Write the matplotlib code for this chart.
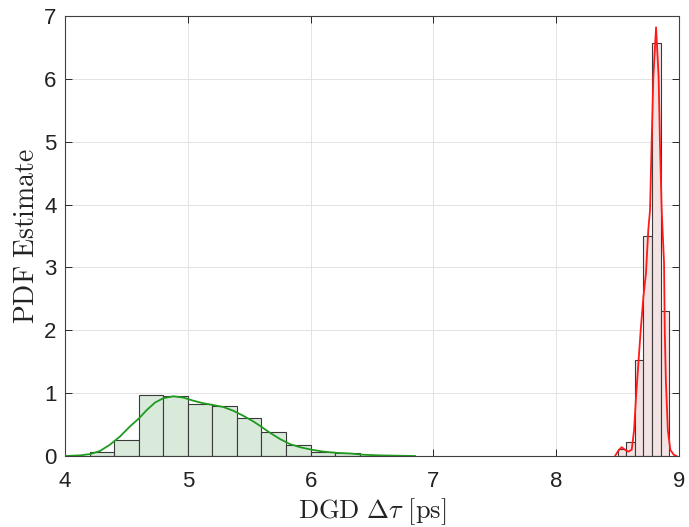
import numpy as np
import matplotlib.pyplot as plt

# green histogram (bin width 0.2)
g_edges = [4.2, 4.4, 4.6, 4.8, 5.0, 5.2, 5.4, 5.6, 5.8, 6.0, 6.2]
g_heights = [0.07, 0.25, 0.97, 0.96, 0.82, 0.80, 0.60, 0.38, 0.17, 0.07, 0.04]
g_width = 0.2

# green density curve
g_x = [4.0, 4.122, 4.204, 4.285, 4.366, 4.448, 4.529, 4.603, 4.665, 4.733,
       4.801, 4.882, 4.963, 5.045, 5.126, 5.208, 5.289, 5.371, 5.452, 5.534,
       5.588, 5.669, 5.751, 5.832, 5.914, 6.009, 6.104, 6.212, 6.321, 6.43,
       6.565, 6.70, 6.85]
g_y = [0.0, 0.01, 0.03, 0.08, 0.18, 0.31, 0.47, 0.60, 0.73, 0.85,
       0.92, 0.95, 0.93, 0.88, 0.84, 0.81, 0.78, 0.72, 0.64, 0.55,
       0.48, 0.37, 0.27, 0.19, 0.14, 0.10, 0.07, 0.05, 0.04, 0.02,
       0.01, 0.005, 0.0]

# red histogram (bin width 0.07)
r_edges = [8.50, 8.57, 8.64, 8.71, 8.78, 8.85]
r_heights = [0.11, 0.22, 1.53, 3.50, 6.57, 2.31]
r_width = 0.07

# red density curve
r_x = [8.479, 8.506, 8.533, 8.56, 8.587, 8.615, 8.634, 8.65, 8.669, 8.688,
       8.71, 8.731, 8.75, 8.764, 8.777, 8.791, 8.813, 8.834, 8.845, 8.859,
       8.878, 8.884, 8.893, 8.909, 8.929, 8.957, 8.98]
r_y = [0.0, 0.085, 0.14, 0.10, 0.07, 0.10, 0.41, 0.94, 1.47, 2.0,
       2.53, 2.91, 3.6, 3.91, 4.97, 6.03, 6.82, 6.03, 4.97, 3.91,
       3.07, 2.0, 1.2, 0.41, 0.10, 0.02, 0.0]

plt.rcParams['font.family'] = ['Liberation Sans', 'DejaVu Sans']
plt.rcParams['mathtext.fontset'] = 'cm'

fig = plt.figure(figsize=(6.89, 5.27), dpi=100)
ax = fig.add_axes([0.0943, 0.1347, 0.8912, 0.8349])

ax.bar(g_edges, g_heights, width=g_width, align='edge',
       facecolor='#d9eadb', edgecolor='#3a3a3a', linewidth=0.8, zorder=2)
ax.plot(g_x, g_y, color='#1f9a1f', linewidth=1.3, zorder=3)

ax.bar(r_edges, r_heights, width=r_width, align='edge',
       facecolor='#f3e3e3', edgecolor='#3a3a3a', linewidth=0.8, zorder=2)
ax.plot(r_x, r_y, color='#ff1a1a', linewidth=1.3, zorder=3)

ax.set_xlim(4, 9)
ax.set_ylim(0, 7)
ax.set_xticks(range(4, 10))
ax.set_yticks(range(0, 8))
ax.grid(True, color='#e3e3e3', linewidth=0.7, zorder=0)
ax.set_axisbelow(True)
ax.tick_params(direction='in', top=True, right=True, length=5, width=0.7,
               labelsize=16, colors='#262626', labelcolor='#222222')
ax.tick_params(axis='x', pad=11)
ax.tick_params(axis='y', pad=6)
for s in ax.spines.values():
    s.set_color('#404040')
    s.set_linewidth(0.8)

ax.set_xlabel(r'$\mathrm{DGD}\ \Delta\tau\ [\mathrm{ps}]$', fontsize=19,
              color='#222222', labelpad=3)
ax.set_ylabel(r'$\mathrm{PDF\ Estimate}$', fontsize=20, color='#222222',
              labelpad=3)

fig.savefig('out.png', dpi=100)
